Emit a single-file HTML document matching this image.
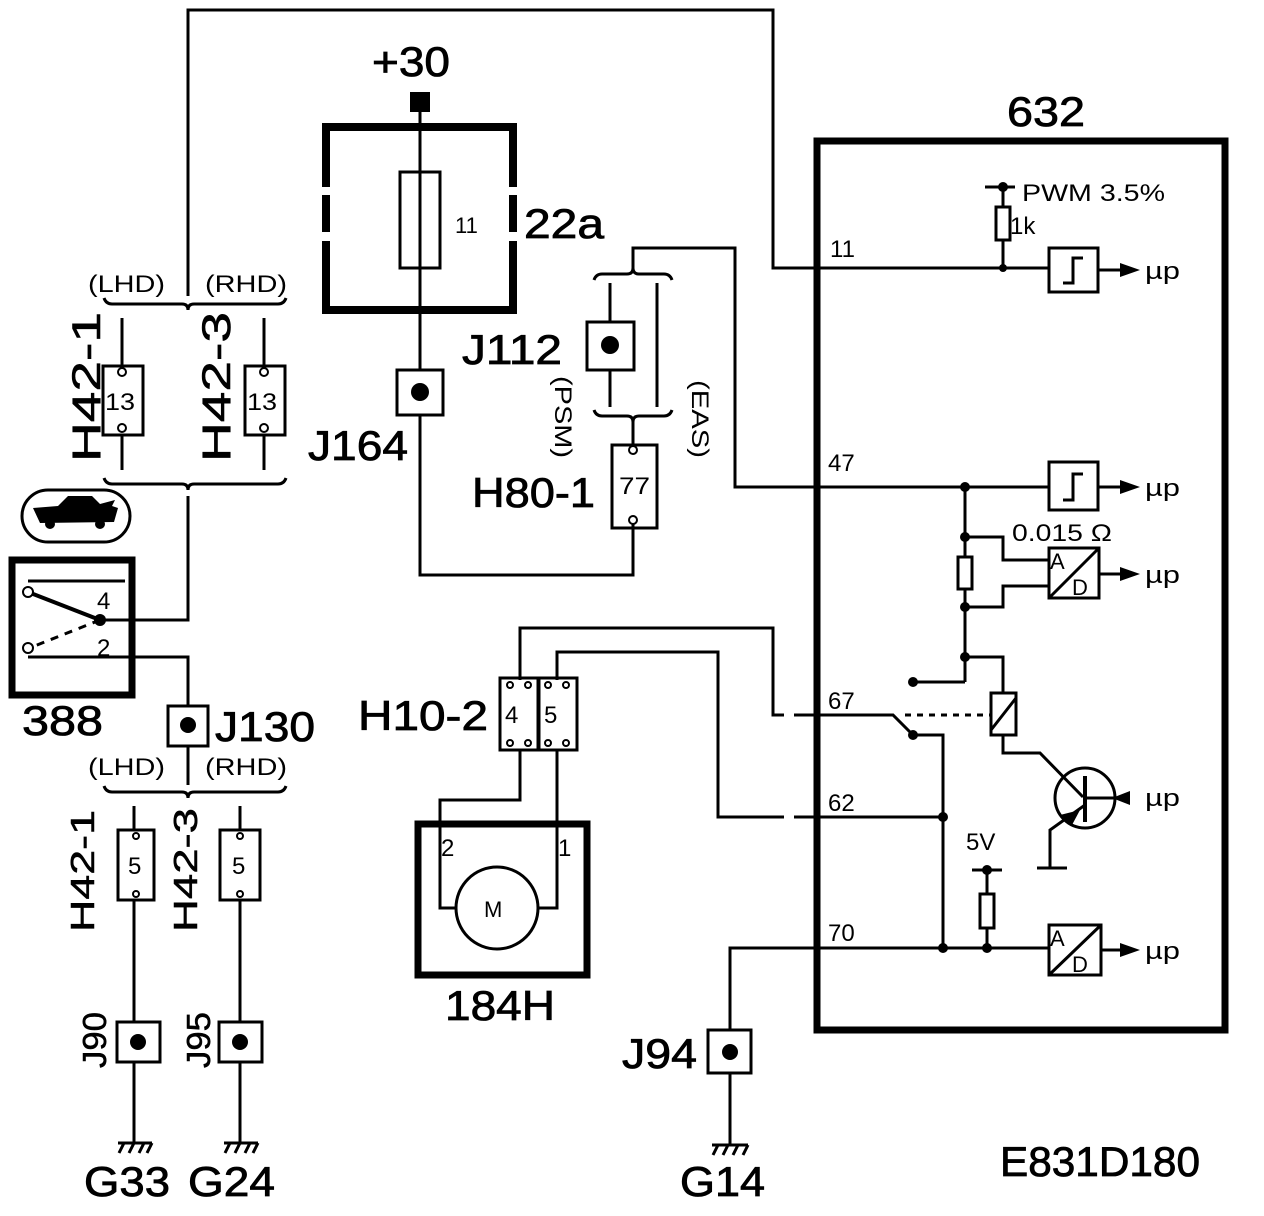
<!DOCTYPE html>
<html><head><meta charset="utf-8"><style>
html,body{margin:0;padding:0;background:#fff}
svg{display:block}
text{font-family:"Liberation Sans",sans-serif;fill:#000}
</style></head><body>
<svg width="1264" height="1216" viewBox="0 0 1264 1216" xmlns="http://www.w3.org/2000/svg">
<g fill="none" stroke="#000" stroke-width="3">
<polyline points="188,296 188,10 773,10 773,268 1049,268"/>
<rect x="817" y="141" width="408" height="889" stroke-width="7"/>
<line x1="985" y1="187" x2="1015" y2="187"/>
<line x1="1003" y1="187" x2="1003" y2="207"/>
<rect x="996" y="207" width="14" height="33"/>
<line x1="1003" y1="240" x2="1003" y2="268"/>
<rect x="1049" y="248" width="49" height="44"/>
<polyline points="1063,283 1073,283 1073,258 1083,258"/>
<line x1="1098" y1="270" x2="1125" y2="270"/>
<line x1="420" y1="112" x2="420" y2="370"/>
<rect x="326" y="127" width="187" height="183" stroke-width="8"/>
<rect x="400" y="172" width="40" height="96"/>
<rect x="397" y="370" width="46" height="45"/>
<polyline points="420,415 420,575 633,575 633,523"/>
<line x1="610" y1="283" x2="610" y2="407"/>
<line x1="657" y1="283" x2="657" y2="407"/>
<rect x="587" y="322" width="47" height="48" fill="#fff"/>
<path d="M594,280 q2,-6 8,-6 l25,0 q6,0 6,-6 q0,6 6,6 l25,0 q6,0 8,6"/>
<polyline points="633,268 633,248 735,248 735,487 1049,487"/>
<path d="M594,410 q2,6 8,6 l25,0 q6,0 6,6 q0,-6 6,-6 l25,0 q6,0 8,-6"/>
<line x1="633" y1="422" x2="633" y2="450"/>
<rect x="612" y="445" width="45" height="83"/>
<rect x="1049" y="462" width="49" height="48"/>
<polyline points="1063,500 1073,500 1073,474 1083,474"/>
<line x1="1098" y1="487" x2="1125" y2="487"/>
<line x1="965" y1="487" x2="965" y2="682"/>
<polyline points="965,537 1003,537 1003,560 1049,560"/>
<polyline points="965,607 1003,607 1003,586 1049,586"/>
<rect x="958" y="557" width="14" height="32" fill="#fff"/>
<rect x="1049" y="548" width="50" height="50"/>
<line x1="1049" y1="598" x2="1099" y2="548"/>
<line x1="1099" y1="574" x2="1125" y2="574"/>
<polyline points="965,682 913,682"/>
<polyline points="965,657 1003,657 1003,693"/>
<rect x="991" y="693" width="25" height="42"/>
<line x1="991" y1="730" x2="1016" y2="698"/>
<polyline points="1003,735 1003,753 1040,753 1083,797"/>
<circle cx="1085" cy="798" r="30"/>
<line x1="1085" y1="776" x2="1085" y2="822" stroke-width="4"/>
<line x1="1085" y1="798" x2="1125" y2="798"/>
<polyline points="1085,805 1050,830 1050,868"/>
<line x1="1037" y1="868" x2="1067" y2="868"/>
<polyline points="520,680 520,628 773,628 773,715 893,715 913,735 943,735 943,948"/>
<line x1="905" y1="715" x2="991" y2="715" stroke-dasharray="6,6"/>
<polyline points="557,680 557,652 718,652 718,817 943,817"/>
<rect x="500" y="678" width="38" height="72"/>
<rect x="539" y="678" width="38" height="72"/>
<polyline points="520,750 520,800 440,800 440,908 457,908"/>
<polyline points="557,750 557,908 537,908"/>
<rect x="418" y="824" width="169" height="151" stroke-width="7"/>
<circle cx="497" cy="908" r="41"/>
<polyline points="730,1030 730,948 1049,948"/>
<rect x="1049" y="925" width="52" height="50"/>
<line x1="1049" y1="975" x2="1101" y2="925"/>
<line x1="1101" y1="950" x2="1125" y2="950"/>
<line x1="972" y1="870" x2="1002" y2="870"/>
<line x1="987" y1="870" x2="987" y2="948"/>
<rect x="980" y="894" width="14" height="34" fill="#fff"/>
<rect x="708" y="1030" width="43" height="43"/>
<line x1="730" y1="1073" x2="730" y2="1145"/>
<line x1="712" y1="1145" x2="748" y2="1145"/>
<path d="M718,1145 l-5,10 M728,1145 l-5,10 M738,1145 l-5,10 M748,1145 l-5,10"/>
<path d="M104,298 q2,6 8,6 l70,0 q6,0 6,6 q0,-6 6,-6 l84,0 q6,0 8,-6"/>
<line x1="122" y1="318" x2="122" y2="470"/>
<line x1="264" y1="318" x2="264" y2="470"/>
<rect x="103" y="366" width="40" height="69" fill="#fff"/>
<rect x="245" y="366" width="40" height="69" fill="#fff"/>
<path d="M104,478 q2,6 8,6 l70,0 q6,0 6,6 q0,-6 6,-6 l84,0 q6,0 8,-6"/>
<polyline points="188,496 188,620 100,620"/>
<rect x="22" y="490" width="108" height="52" rx="26"/>
<rect x="12" y="560" width="120" height="135" stroke-width="7"/>
<polyline points="28,581 125,581"/>
<polyline points="28,657 188,657 188,705"/>
<line x1="28" y1="592" x2="100" y2="620" stroke-width="4"/>
<line x1="100" y1="620" x2="32" y2="647" stroke-dasharray="8,7"/>
<rect x="168" y="706" width="40" height="40"/>
<line x1="188" y1="746" x2="188" y2="785"/>
<path d="M104,786 q2,6 8,6 l70,0 q6,0 6,6 q0,-6 6,-6 l84,0 q6,0 8,-6"/>
<line x1="134" y1="806" x2="134" y2="1143"/>
<line x1="240" y1="806" x2="240" y2="1143"/>
<rect x="118" y="830" width="36" height="70" fill="#fff"/>
<rect x="220" y="830" width="40" height="70" fill="#fff"/>
<rect x="117" y="1022" width="43" height="40" fill="#fff"/>
<rect x="219" y="1022" width="43" height="40" fill="#fff"/>
<line x1="118" y1="1143" x2="152" y2="1143"/>
<path d="M124,1143 l-5,10 M134,1143 l-5,10 M144,1143 l-5,10 M152,1143 l-5,10"/>
<line x1="224" y1="1143" x2="258" y2="1143"/>
<path d="M230,1143 l-5,10 M240,1143 l-5,10 M250,1143 l-5,10 M258,1143 l-5,10"/>
</g>
<g fill="#fff">
<rect x="318" y="187" width="16" height="8"/><rect x="318" y="232" width="16" height="9"/>
<rect x="505" y="187" width="16" height="8"/><rect x="505" y="232" width="16" height="9"/>
<rect x="784" y="712" width="10" height="7"/><rect x="784" y="814" width="10" height="7"/>
</g>
<g fill="#000">
<rect x="410" y="92" width="20" height="20"/>
<circle cx="420" cy="392" r="9"/><circle cx="610" cy="345" r="9"/>
<circle cx="1003" cy="187" r="5"/><circle cx="1003" cy="268" r="4"/>
<circle cx="965" cy="487" r="5"/><circle cx="965" cy="537" r="5"/><circle cx="965" cy="607" r="5"/>
<circle cx="965" cy="657" r="5"/><circle cx="913" cy="682" r="5"/><circle cx="913" cy="735" r="5"/>
<circle cx="943" cy="817" r="5"/><circle cx="943" cy="948" r="5"/><circle cx="987" cy="948" r="5"/>
<circle cx="987" cy="870" r="5"/>
<circle cx="730" cy="1052" r="8"/><circle cx="100" cy="620" r="6"/>
<circle cx="188" cy="725" r="8"/><circle cx="138" cy="1042" r="8"/><circle cx="240" cy="1042" r="8"/>
<polygon points="1140,270 1120,263 1120,277"/>
<polygon points="1140,487 1120,480 1120,494"/>
<polygon points="1140,574 1120,567 1120,581"/>
<polygon points="1140,950 1120,943 1120,957"/>
<polygon points="1112,798 1130,791 1130,805"/>
<polygon points="1080,810 1060,815 1072,825"/>
<path d="M33,508 L58,506 L68,496 L92,496 L100,504 L115,500 L112,506 L118,508 L114,522 L40,523 Z"/>
<circle cx="50" cy="524" r="5"/><circle cx="100" cy="524" r="5"/>
</g>
<g fill="#fff" stroke="#000" stroke-width="2">
<circle cx="122" cy="372" r="4"/><circle cx="122" cy="428" r="4"/>
<circle cx="264" cy="372" r="4"/><circle cx="264" cy="428" r="4"/>
<circle cx="633" cy="450" r="4"/><circle cx="633" cy="520" r="4"/>
<circle cx="510" cy="685" r="3"/><circle cx="528" cy="685" r="3"/>
<circle cx="510" cy="743" r="3"/><circle cx="528" cy="743" r="3"/>
<circle cx="548" cy="685" r="3"/><circle cx="566" cy="685" r="3"/>
<circle cx="548" cy="743" r="3"/><circle cx="566" cy="743" r="3"/>
<circle cx="136" cy="836" r="3"/><circle cx="136" cy="894" r="3"/>
<circle cx="240" cy="836" r="3"/><circle cx="240" cy="894" r="3"/>
<circle cx="28" cy="592" r="5"/><circle cx="28" cy="648" r="5"/>
</g>
<g font-size="42" stroke="#000" stroke-width="0.8">
<text x="372" y="76" textLength="78" lengthAdjust="spacingAndGlyphs">+30</text>
<text x="1007" y="126" textLength="78" lengthAdjust="spacingAndGlyphs">632</text>
<text x="524" y="238" textLength="80" lengthAdjust="spacingAndGlyphs">22a</text>
<text x="462" y="364" textLength="100" lengthAdjust="spacingAndGlyphs">J112</text>
<text x="308" y="460" textLength="100" lengthAdjust="spacingAndGlyphs">J164</text>
<text x="472" y="507" textLength="123" lengthAdjust="spacingAndGlyphs">H80-1</text>
<text x="358" y="730" textLength="130" lengthAdjust="spacingAndGlyphs">H10-2</text>
<text x="22" y="735" textLength="81" lengthAdjust="spacingAndGlyphs">388</text>
<text x="215" y="741" textLength="100" lengthAdjust="spacingAndGlyphs">J130</text>
<text x="445" y="1020" textLength="110" lengthAdjust="spacingAndGlyphs">184H</text>
<text x="622" y="1068" textLength="75" lengthAdjust="spacingAndGlyphs">J94</text>
<text x="680" y="1196" textLength="85" lengthAdjust="spacingAndGlyphs">G14</text>
<text x="84" y="1196" textLength="86" lengthAdjust="spacingAndGlyphs">G33</text>
<text x="188" y="1196" textLength="87" lengthAdjust="spacingAndGlyphs">G24</text>
<text x="1000" y="1176" textLength="200" lengthAdjust="spacingAndGlyphs">E831D180</text>
</g>
<g font-size="40" stroke="#000" stroke-width="0.6">
<text transform="translate(100,462) rotate(-90)" textLength="150" lengthAdjust="spacingAndGlyphs">H42-1</text>
<text transform="translate(230,462) rotate(-90)" textLength="150" lengthAdjust="spacingAndGlyphs">H42-3</text>
</g>
<g font-size="33" stroke="#000" stroke-width="0.5">
<text transform="translate(94,932) rotate(-90)" textLength="122" lengthAdjust="spacingAndGlyphs">H42-1</text>
<text transform="translate(197,932) rotate(-90)" textLength="124" lengthAdjust="spacingAndGlyphs">H42-3</text>
<text transform="translate(106,1068) rotate(-90)" textLength="56" lengthAdjust="spacingAndGlyphs">J90</text>
<text transform="translate(210,1068) rotate(-90)" textLength="56" lengthAdjust="spacingAndGlyphs">J95</text>
</g>
<g font-size="24">
<text x="88" y="292" textLength="77" lengthAdjust="spacingAndGlyphs">(LHD)</text><text x="205" y="292" textLength="82" lengthAdjust="spacingAndGlyphs">(RHD)</text>
<text x="88" y="775" textLength="77" lengthAdjust="spacingAndGlyphs">(LHD)</text><text x="205" y="775" textLength="82" lengthAdjust="spacingAndGlyphs">(RHD)</text>
<text x="1022" y="201" textLength="143" lengthAdjust="spacingAndGlyphs">PWM 3.5%</text>
<text x="1010" y="234">1k</text>
<text x="1012" y="541" textLength="100" lengthAdjust="spacingAndGlyphs">0.015 Ω</text>
<text x="830" y="257">11</text><text x="828" y="471">47</text>
<text x="828" y="709">67</text><text x="828" y="811">62</text>
<text x="828" y="941">70</text>
<text x="966" y="850">5V</text>
<text x="1145" y="279" textLength="35" lengthAdjust="spacingAndGlyphs">µp</text><text x="1145" y="496" textLength="35" lengthAdjust="spacingAndGlyphs">µp</text>
<text x="1145" y="583" textLength="35" lengthAdjust="spacingAndGlyphs">µp</text><text x="1145" y="806" textLength="35" lengthAdjust="spacingAndGlyphs">µp</text>
<text x="1145" y="959" textLength="35" lengthAdjust="spacingAndGlyphs">µp</text>
<text x="97" y="609">4</text><text x="97" y="656">2</text>
<text x="441" y="856">2</text><text x="558" y="856">1</text>
<text x="619" y="494" textLength="31" lengthAdjust="spacingAndGlyphs">77</text>
<text x="505" y="723">4</text><text x="544" y="723">5</text>
<text x="105" y="410" textLength="30" lengthAdjust="spacingAndGlyphs">13</text><text x="247" y="410" textLength="30" lengthAdjust="spacingAndGlyphs">13</text>
<text x="128" y="874">5</text><text x="232" y="874">5</text>
<text transform="translate(555,376) rotate(90)" textLength="82" lengthAdjust="spacingAndGlyphs">(PSM)</text>
<text transform="translate(692,380) rotate(90)" textLength="78" lengthAdjust="spacingAndGlyphs">(EAS)</text>
</g>
<g font-size="22">
<text x="455" y="233">11</text>
<text x="484" y="917">M</text>
<text x="1050" y="569">A</text><text x="1072" y="595">D</text>
<text x="1050" y="946">A</text><text x="1072" y="972">D</text>
</g>
</svg>
</body></html>
